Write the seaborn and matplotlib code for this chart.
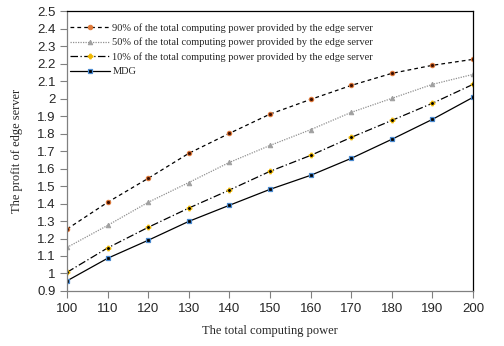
import matplotlib
matplotlib.use("Agg")
import matplotlib.pyplot as plt
import seaborn as sns
import pandas as pd

power = [100, 110, 120, 130, 140, 150, 160, 170, 180, 190, 200]
p90 = [1.254, 1.407, 1.544, 1.687, 1.801, 1.911, 1.995, 2.075, 2.144, 2.19, 2.224]
p50 = [1.149, 1.275, 1.407, 1.52, 1.635, 1.732, 1.822, 1.921, 2.001, 2.081, 2.138]
p10 = [1.007, 1.146, 1.264, 1.374, 1.477, 1.584, 1.675, 1.778, 1.875, 1.973, 2.081]
mdg = [0.958, 1.087, 1.19, 1.298, 1.39, 1.481, 1.561, 1.658, 1.767, 1.881, 2.007]

labels = ["90% of the total computing power provided by the edge server",
          "50% of the total computing power provided by the edge server",
          "10% of the total computing power provided by the edge server",
          "MDG"]

sns.set_style("white")
fig = plt.figure(figsize=(5.04, 3.46), dpi=100)
ax = fig.add_axes([0.133, 0.159, 0.8055, 0.809])

styles = [
    dict(ls=(0, (3, 2.5)), marker="o", mfc="#e07a3a", mec="#e07a3a", ms=3.2, color="black", lw=0.9),
    dict(ls=(0, (1, 1)), marker="^", mfc="#a0a0a0", mec="#a0a0a0", ms=3.2, color="#909090", lw=0.9),
    dict(ls=(0, (6, 2, 1, 2)), marker="P", mfc="#f0b800", mec="#f0b800", ms=3.4, color="black", lw=0.9),
    dict(ls="-", marker="s", mfc="black", mec="#4a8ad0", mew=0.9, ms=3.3, color="black", lw=0.9),
]
series = [p90, p50, p10, mdg]
for lab, vals, st in zip(labels, series, styles):
    df = pd.DataFrame({"x": power, "y": vals})
    sns.lineplot(data=df, x="x", y="y", ax=ax, label=lab, **st)

# dark centers on markers
ax.plot(power, p90, ls="none", marker="o", ms=1.3, color="#401000")
ax.plot(power, p10, ls="none", marker="o", ms=1.1, color="black")

ax.set_xlim(100, 200)
ax.set_ylim(0.9, 2.5)
ax.set_xticks(power)
yt = [0.9, 1, 1.1, 1.2, 1.3, 1.4, 1.5, 1.6, 1.7, 1.8, 1.9, 2, 2.1, 2.2, 2.3, 2.4, 2.5]
ax.set_yticks(yt)
ax.set_yticklabels([("%g" % v) for v in yt])
for t in ax.get_xticklabels() + ax.get_yticklabels():
    t.set_fontfamily("Liberation Sans")
    t.set_fontsize(9.5)
ax.tick_params(axis="x", direction="out", length=5, width=0.8, color="#808080", pad=4, bottom=True)
ax.tick_params(axis="y", direction="out", length=5, width=0.8, color="#808080", pad=3, left=True)
ax.spines["left"].set_color("#808080")
ax.spines["bottom"].set_color("#808080")
ax.spines["top"].set_color("black")
ax.spines["right"].set_color("black")
for s in ax.spines.values():
    s.set_linewidth(0.9)

ax.set_xlabel("The total computing power", fontfamily="Liberation Serif", fontsize=9, labelpad=7)
ax.set_ylabel("The profit of edge server", fontfamily="Liberation Serif", fontsize=9, labelpad=10)

leg = ax.legend(loc="upper left", bbox_to_anchor=(0.0, 0.969), frameon=False,
                prop={"family": "Liberation Serif", "size": 7.5},
                handlelength=3.85, labelspacing=0.48, borderaxespad=0.0, borderpad=0.3,
                handletextpad=0.2)
fig.savefig("out.png", dpi=100)
